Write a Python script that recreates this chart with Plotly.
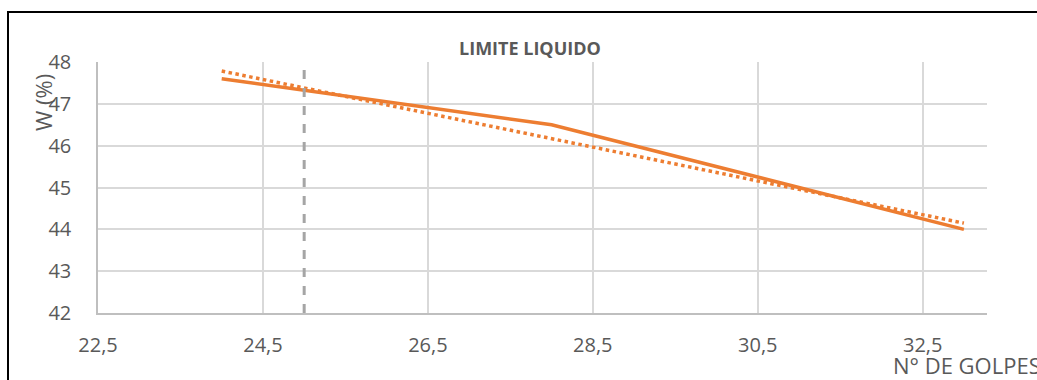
import numpy as np
import plotly.graph_objects as go

golpes = [24, 28, 33]
humedad = [47.6, 46.5, 44.0]
x_ticks = [22.5, 24.5, 26.5, 28.5, 30.5, 32.5]
y_ticks = [42, 43, 44, 45, 46, 47, 48]
ref_golpes = 25

# linear trendline (as Excel's)
coef = np.polyfit(golpes, humedad, 1)
trend_x = [golpes[0], golpes[-1]]
trend_y = [float(np.polyval(coef, v)) for v in trend_x]

W, H = 1037, 380
L, R, T, B = 98, 1037 - 987, 62, 380 - 313
pw, ph = W - L - R, H - T - B

def px(xp):
    return (xp - L) / pw

def py(yp):
    return (H - B - yp) / ph

ORANGE = "#ED7D31"
fig = go.Figure()
fig.add_trace(go.Scatter(x=trend_x, y=trend_y, mode="lines",
                         line=dict(color=ORANGE, width=3.5, dash="dot"),
                         showlegend=False, hoverinfo="skip"))
fig.add_trace(go.Scatter(x=golpes, y=humedad, mode="lines",
                         line=dict(color=ORANGE, width=3.5),
                         showlegend=False))
fig.add_trace(go.Scatter(x=[ref_golpes, ref_golpes], y=[y_ticks[0], y_ticks[-1]], mode="lines",
                         line=dict(color="#A5A5A5", width=3, dash="dash"),
                         showlegend=False, hoverinfo="skip"))

fig.update_layout(
    width=W, height=H,
    margin=dict(l=L, r=R, t=T, b=B),
    paper_bgcolor="white", plot_bgcolor="white",
    separators=",.",
    font=dict(family="Open Sans", color="#595959", size=20),
    xaxis=dict(range=[22.5, 33.28], tickvals=x_ticks, tickformat=".1f",
               showgrid=True, gridcolor="#D9D9D9", gridwidth=1.5,
               showline=True, linecolor="#BFBFBF", linewidth=1.5,
               zeroline=False, ticks="", ticklabelstandoff=13,
               tickfont=dict(size=20)),
    yaxis=dict(range=[42, 48], tickvals=y_ticks,
               showgrid=True, gridcolor="#D9D9D9", gridwidth=1.5,
               showline=True, linecolor="#BFBFBF", linewidth=1.5,
               zeroline=False, ticks="", ticklabelstandoff=21,
               tickfont=dict(size=20)),
    shapes=[dict(type="rect", xref="paper", yref="paper",
                 x0=px(8), x1=px(1045), y0=py(390), y1=py(12),
                 line=dict(color="black", width=2), layer="above")],
    annotations=[
        dict(text="<b>LIMITE LIQUIDO</b>", xref="paper", yref="paper",
             x=px(530), y=py(48), showarrow=False, xanchor="center", yanchor="middle",
             font=dict(size=18, color="#595959")),
        dict(text="W (%)", xref="paper", yref="paper", textangle=-90,
             x=px(43), y=py(103), showarrow=False, xanchor="center", yanchor="middle",
             font=dict(size=22, color="#595959")),
        dict(text="N° DE GOLPES", xref="paper", yref="paper",
             x=px(891), y=py(365), showarrow=False, xanchor="left", yanchor="middle",
             font=dict(size=22, color="#595959")),
    ],
)

fig.write_html("out.html")
